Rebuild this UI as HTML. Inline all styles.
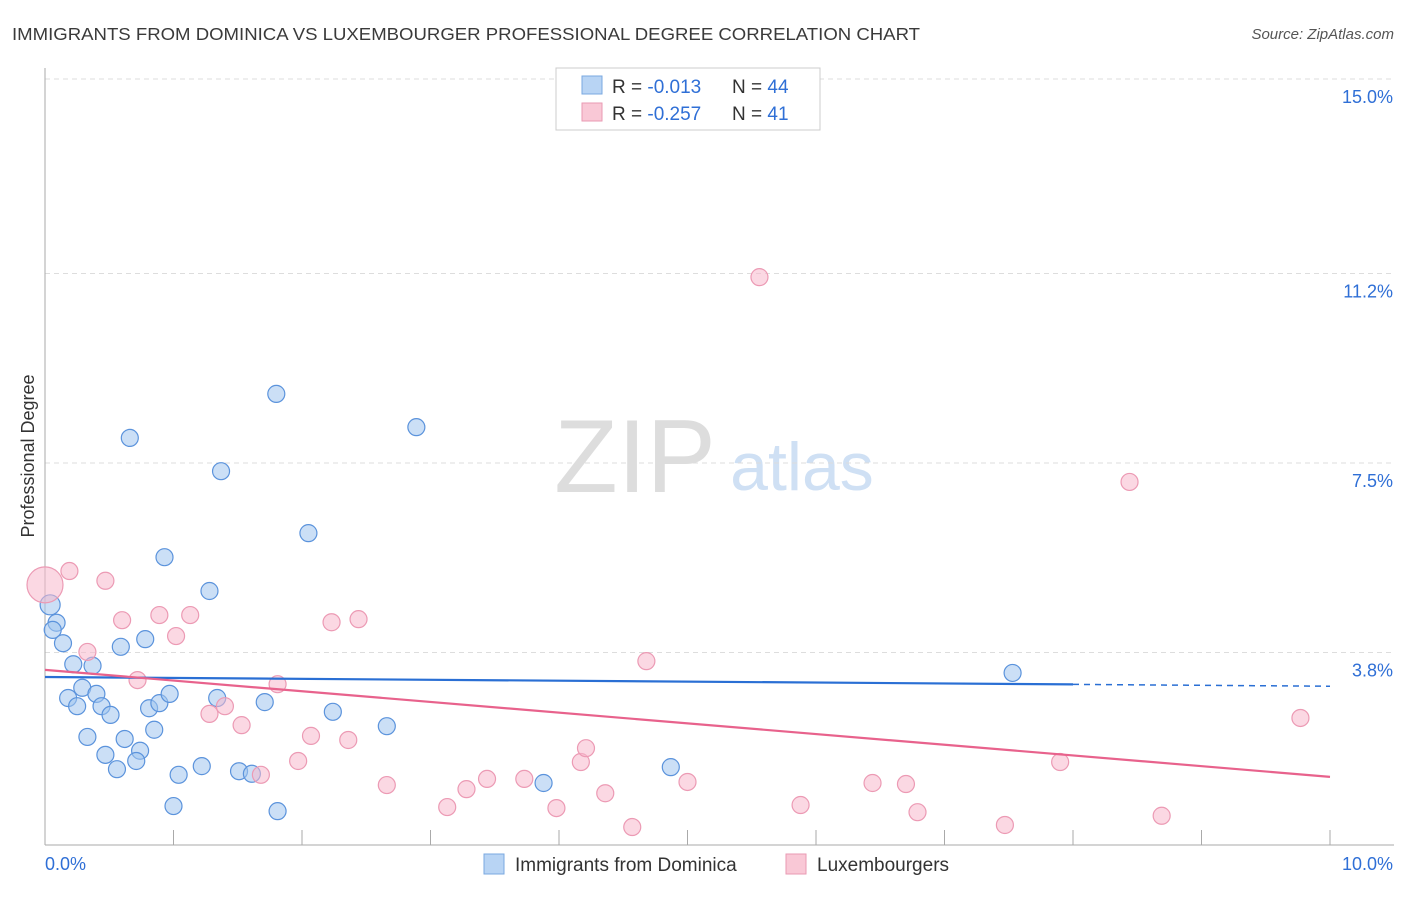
<!DOCTYPE html>
<html><head><meta charset="utf-8"><style>
body{margin:0;background:#fff;font-family:"Liberation Sans",sans-serif}
svg text{font-family:"Liberation Sans",sans-serif}
</style></head><body>
<svg id="chart" width="1406" height="892">
<text x="12" y="40" font-size="17.5" fill="#3a3a3a" textLength="908" lengthAdjust="spacingAndGlyphs">IMMIGRANTS FROM DOMINICA VS LUXEMBOURGER PROFESSIONAL DEGREE CORRELATION CHART</text>
<text x="1394" y="39" font-size="15" fill="#555" font-style="italic" text-anchor="end">Source: ZipAtlas.com</text>
<text x="635" y="492" font-size="104" fill="#ddd" font-family="Liberation Serif" text-anchor="middle">ZIP</text>
<text x="802" y="490" font-size="68" fill="#cfe0f4" text-anchor="middle">atlas</text>
<g id="grid"></g>
<g id="axes"></g>
<g id="marks"></g>
<text transform="translate(34,456) rotate(-90)" font-size="18" fill="#333" text-anchor="middle">Professional Degree</text>
<g>
<rect x="556" y="68" width="264" height="62" fill="#fff" stroke="#ccc"/>
<rect x="582" y="76" width="20" height="18" fill="#b8d4f4" stroke="#7aa8e0"/>
<rect x="582" y="103" width="20" height="18" fill="#f9c8d6" stroke="#e99ab3"/>
<text x="612" y="93" font-size="19" fill="#333">R = <tspan fill="#2f6fd6">-0.013</tspan></text>
<text x="732" y="93" font-size="19" fill="#333">N = <tspan fill="#2f6fd6">44</tspan></text>
<text x="612" y="120" font-size="19" fill="#333">R = <tspan fill="#2f6fd6">-0.257</tspan></text>
<text x="732" y="120" font-size="19" fill="#333">N =  <tspan fill="#2f6fd6">41</tspan></text>
</g>
<g>
<rect x="484" y="854" width="20" height="20" fill="#b8d4f4" stroke="#7aa8e0"/>
<text x="515" y="871" font-size="19" fill="#333">Immigrants from Dominica</text>
<rect x="786" y="854" width="20" height="20" fill="#f9c8d6" stroke="#e99ab3"/>
<text x="817" y="871" font-size="19" fill="#333">Luxembourgers</text>
</g>
</svg>
<script>
const yTicks=[15.0,11.2,7.5,3.8];
const yTickLabels=["15.0%","11.2%","7.5%","3.8%"];
const xTickCount=10;
const blueX=[.04,.09,.06,.14,.22,.37,.59,.78,.93,1.28,.29,.18,.25,.40,.44,.51,.81,.89,.97,.33,.62,.85,.47,.74,.71,.56,1.04,1.22,1.00,1.34,1.51,1.61,1.71,1.81,2.24,2.66,.66,1.37,1.80,2.05,2.89,3.88,4.87,7.53];
const blueY=[4.73,4.38,4.24,3.98,3.57,3.54,3.91,4.06,5.66,5.00,3.11,2.91,2.75,2.99,2.75,2.58,2.71,2.81,2.99,2.15,2.11,2.29,1.80,1.88,1.68,1.52,1.41,1.58,.80,2.91,1.48,1.43,2.83,.70,2.64,2.36,7.99,7.34,8.85,6.13,8.20,1.25,1.56,3.40];
const pinkX=[0,.19,.47,.60,.89,1.13,1.02,.33,.72,1.28,1.40,1.53,1.81,1.97,2.07,2.36,2.23,2.44,1.68,2.66,3.13,3.28,3.44,3.73,3.98,4.17,4.21,4.36,4.57,4.68,5.00,5.56,5.88,6.44,6.70,6.79,7.47,7.90,8.44,8.69,9.77];
const pinkY=[5.12,5.39,5.20,4.43,4.53,4.53,4.12,3.81,3.26,2.60,2.75,2.38,3.18,1.68,2.17,2.09,4.39,4.45,1.41,1.21,.78,1.13,1.33,1.33,.76,1.66,1.93,1.05,.39,3.63,1.27,11.13,.82,1.25,1.23,.68,.43,1.66,7.13,.61,2.52];
const blueTrend=[3.32,3.14];
const pinkTrend=[3.46,1.37];
const NS="http://www.w3.org/2000/svg";
const xs=v=>45+v*128.5;
const ys=v=>847-v*51.2;
function mk(tag,attrs,parent){const e=document.createElementNS(NS,tag);for(const k in attrs)e.setAttribute(k,attrs[k]);document.getElementById(parent).appendChild(e);return e;}
yTicks.forEach((t,i)=>{
 const g=mk('line',{x1:45,x2:1394,y1:ys(t),y2:ys(t),stroke:'#ddd','stroke-dasharray':'5,4'},'grid');
 
 
 const l=mk('text',{x:1393,y:ys(t)+24,'font-size':18,fill:'#2f6fd6','text-anchor':'end'},'axes');
 l.textContent=yTickLabels[i];
 
 
});
const ya=mk('line',{x1:45,x2:45,y1:68,y2:845,stroke:'#aaa'},'axes');


const xa=mk('line',{x1:45,x2:1394,y1:845,y2:845,stroke:'#aaa'},'axes');


for(let i=1;i<=xTickCount;i++){
 const t=mk('line',{x1:xs(i),x2:xs(i),y1:830,y2:845,stroke:'#aaa'},'axes');
 
 
}
const xl0=mk('text',{x:45,y:870,'font-size':18,fill:'#2f6fd6'},'axes');xl0.textContent='0.0%';


const xl1=mk('text',{x:1393,y:870,'font-size':18,fill:'#2f6fd6','text-anchor':'end'},'axes');xl1.textContent='10.0%';


blueX.forEach((x,i)=>{
 const c=mk('circle',{cx:xs(x),cy:ys(blueY[i]),r:i===0?10:8.5,fill:'rgba(160,196,238,0.55)',stroke:'#5b93dc','stroke-width':1.2},'marks');
 
 
});
pinkX.forEach((x,i)=>{
 const c=mk('circle',{cx:xs(x),cy:ys(pinkY[i]),r:i===0?18:8.5,fill:'rgba(248,184,204,0.55)',stroke:'#ec9ab4','stroke-width':1.2},'marks');
 
 
});
const bt=x=>blueTrend[0]+(blueTrend[1]-blueTrend[0])*x/10;
const b1=mk('line',{x1:xs(0),y1:ys(bt(0)),x2:xs(8),y2:ys(bt(8)),stroke:'#2a6fd4','stroke-width':2.2},'marks');


const b2=mk('line',{x1:xs(8),y1:ys(bt(8)),x2:xs(10),y2:ys(bt(10)),stroke:'#2a6fd4','stroke-width':1.5,'stroke-dasharray':'6,5'},'marks');


const p1=mk('line',{x1:xs(0),y1:ys(pinkTrend[0]),x2:xs(10),y2:ys(pinkTrend[1]),stroke:'#e8628c','stroke-width':2.2},'marks');


</script>
</body></html>
